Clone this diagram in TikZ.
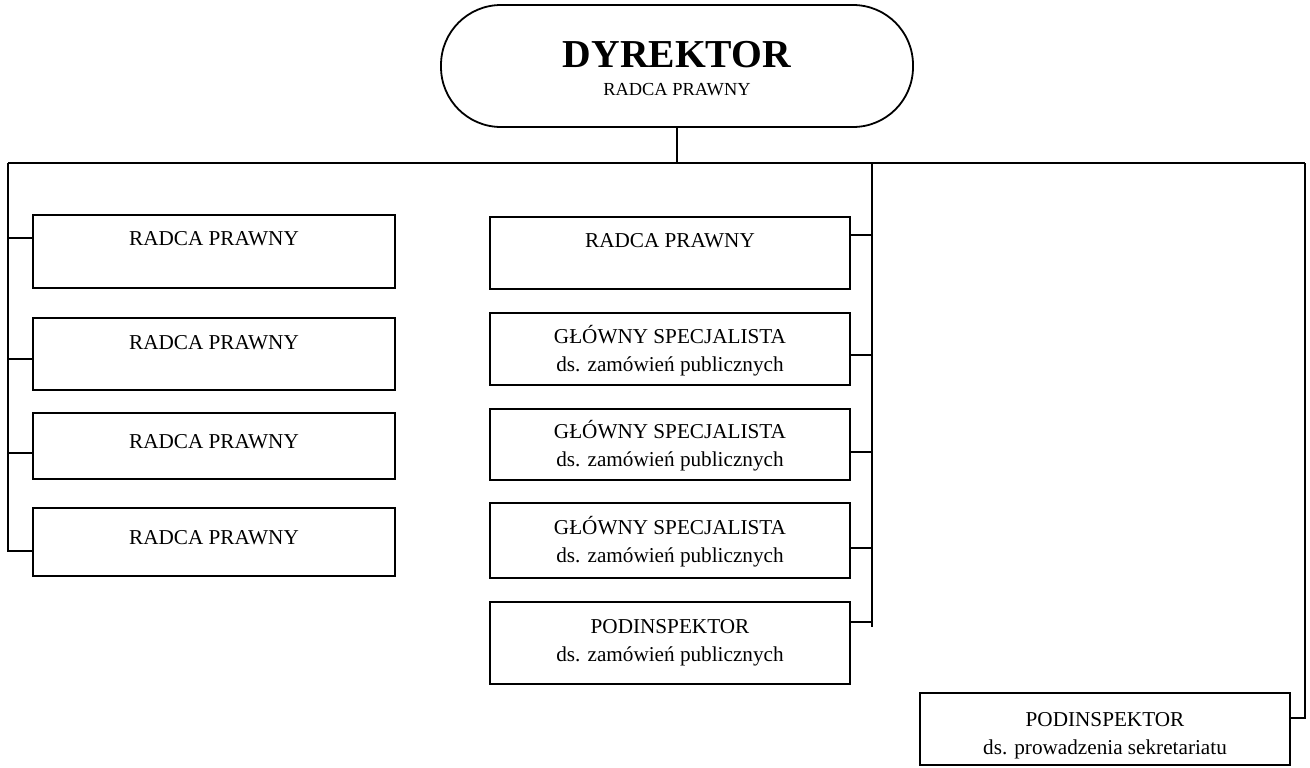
\documentclass[tikz,border=0pt]{standalone}
\usepackage{fontspec}
\setmainfont{Liberation Serif}
\newcommand{\uptop}[1]{\rule{0pt}{#1}}
\begin{document}
\begin{tikzpicture}[x=0.5pt,y=-0.5pt,
  line width=0.9pt,
  unitbox/.style={draw, line width=0.9pt, align=center, inner sep=0pt,
    font=\fontsize{10.6}{14}\selectfont},
  lbox/.style={unitbox, minimum width=181pt},
  mbox/.style={unitbox, minimum width=180pt},
  onebox/.style={text height=7pt, text depth=#1},
  conn/.style={line width=0.9pt}]
\useasboundingbox (0,0) rectangle (1310,767);

% top node
\node[draw, line width=0.9pt, rounded corners=30pt, minimum width=236pt, minimum height=61pt,
  align=center, inner sep=0pt] (dyr) at (677,66)
  {\rule{0pt}{6pt}\\[-4pt]{\fontsize{19.8}{21}\selectfont\bfseries DYREKTOR}\\[2pt]
   {\fontsize{9.2}{11}\selectfont RADCA PRAWNY}};

% left column
\node[lbox, onebox=13.5pt, minimum height=36.5pt] (L1) at (214,251.5) {RADCA PRAWNY};
\node[lbox, onebox=12pt,   minimum height=36pt]   (L2) at (214,354)   {RADCA PRAWNY};
\node[lbox, onebox=5pt,    minimum height=33pt]   (L3) at (214,446)   {RADCA PRAWNY};
\node[lbox, onebox=5pt,    minimum height=34pt]   (L4) at (214,542)   {RADCA PRAWNY};

% middle column
\node[mbox, onebox=13pt, minimum height=36pt] (M1) at (670,253) {RADCA PRAWNY};
\node[mbox, minimum height=36pt]   (M2) at (670,349)   {\uptop{10.5pt}GŁÓWNY SPECJALISTA\\ds. zamówień publicznych};
\node[mbox, minimum height=35.5pt] (M3) at (670,444.5) {\uptop{10.5pt}GŁÓWNY SPECJALISTA\\ds. zamówień publicznych};
\node[mbox, minimum height=37.5pt] (M4) at (670,540.5) {\uptop{10.5pt}GŁÓWNY SPECJALISTA\\ds. zamówień publicznych};
\node[mbox, minimum height=41pt]   (M5) at (670,643)   {PODINSPEKTOR\\ds. zamówień publicznych};

% right box
\node[unitbox, minimum width=185pt, minimum height=36pt] (R) at (1105,729)
  {\uptop{13.5pt}PODINSPEKTOR\\ds. prowadzenia sekretariatu};

% bus coordinates
\coordinate (tl) at (8,163);
\coordinate (tm) at (872,163);
\coordinate (tr) at (1305,163);
\coordinate (mend) at (872,627);

% connection points
\coordinate (pL1) at ([yshift=6.75pt]L1.west);
\coordinate (pL2) at ([yshift=-2.5pt]L2.west);
\coordinate (pL3) at ([yshift=-3.5pt]L3.west);
\coordinate (pL4) at ([yshift=-4.5pt]L4.west);
\coordinate (pM1) at ([yshift=9pt]M1.east);
\coordinate (pM2) at ([yshift=-3pt]M2.east);
\coordinate (pM3) at ([yshift=-3.75pt]M3.east);
\coordinate (pM4) at ([yshift=-3.75pt]M4.east);
\coordinate (pM5) at ([yshift=10.5pt]M5.east);
\coordinate (pR)  at ([yshift=5.5pt]R.east);

% connectors
\draw[conn] (dyr.south) -- (dyr.south |- tl);
\draw[conn] (tl) -- (tr);
\draw[conn] (tl) -- (tl |- pL4) -- (pL4);
\draw[conn] (pL1) -- (pL1 -| tl);
\draw[conn] (pL2) -- (pL2 -| tl);
\draw[conn] (pL3) -- (pL3 -| tl);
\draw[conn] (tm) -- (mend);
\draw[conn] (pM1) -- (pM1 -| tm);
\draw[conn] (pM2) -- (pM2 -| tm);
\draw[conn] (pM3) -- (pM3 -| tm);
\draw[conn] (pM4) -- (pM4 -| tm);
\draw[conn] (pM5) -- (pM5 -| tm);
\draw[conn] (tr) -- (tr |- pR) -- (pR);
\end{tikzpicture}
\end{document}
